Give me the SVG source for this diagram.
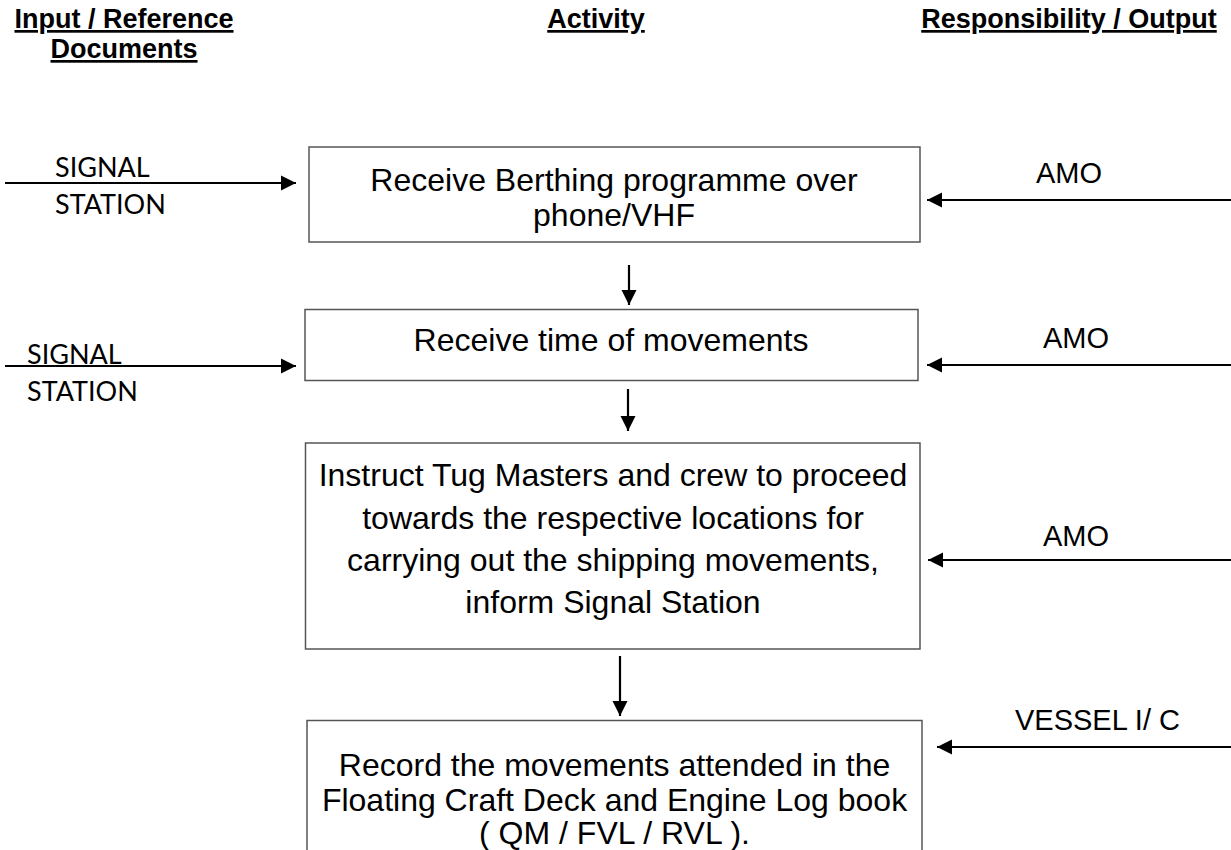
<svg xmlns="http://www.w3.org/2000/svg" width="1231" height="850" viewBox="0 0 1231 850">
<style>
.hdr{font-family:"Liberation Sans",Arial,sans-serif;font-size:27px;font-weight:bold;text-decoration:underline;fill:#000}
.box{fill:#fff;stroke:#555;stroke-width:1.5}
.bt{font-family:"Liberation Sans",Arial,sans-serif;font-size:32px;fill:#000;text-anchor:middle}
.lbl{font-family:"Liberation Sans",Arial,sans-serif;font-size:29px;fill:#000}
.sig{font-family:Lato,"Open Sans",sans-serif;font-size:27px;fill:#000}
.con{stroke:#000;stroke-width:2.2;fill:none}
</style>
<defs>
<marker id="ah" viewBox="0 0 10 10" refX="10" refY="5" markerWidth="7" markerHeight="7" orient="auto" markerUnits="strokeWidth">
<path d="M0,0 L10,5 L0,10 Z" fill="#000"/>
</marker>
</defs>
<g id="headers">
<text class="hdr" x="124" y="28" text-anchor="middle">Input / Reference</text>
<text class="hdr" x="124" y="58" text-anchor="middle">Documents</text>
<text class="hdr" x="596" y="28" text-anchor="middle">Activity</text>
<text class="hdr" x="1069" y="28" text-anchor="middle">Responsibility / Output</text>
</g>
<g id="node1">
<rect class="box" x="309" y="147" width="611" height="95"/>
<text class="bt" x="614" y="191">Receive Berthing programme over</text>
<text class="bt" x="614" y="226">phone/VHF</text>
</g>
<g id="node2">
<rect class="box" x="305" y="309.5" width="613" height="71"/>
<text class="bt" x="611" y="351">Receive time of movements</text>
</g>
<g id="node3">
<rect class="box" x="305.5" y="443" width="614.5" height="206"/>
<text class="bt" x="613" y="486">Instruct Tug Masters and crew to proceed</text>
<text class="bt" x="613" y="529">towards the respective locations for</text>
<text class="bt" x="613" y="571">carrying out the shipping movements,</text>
<text class="bt" x="613" y="613">inform Signal Station</text>
</g>
<g id="node4">
<rect class="box" x="307" y="720.5" width="615" height="140"/>
<text class="bt" x="614.5" y="776">Record the movements attended in the</text>
<text class="bt" x="614.5" y="811">Floating Craft Deck and Engine Log book</text>
<text class="bt" x="614.5" y="844">( QM / FVL / RVL ).</text>
</g>
<g id="labels">
<text class="sig" x="55" y="177">SIGNAL</text>
<text class="sig" x="55" y="214">STATION</text>
<text class="sig" x="27" y="364">SIGNAL</text>
<text class="sig" x="27" y="401">STATION</text>
<text class="lbl" x="1036" y="183">AMO</text>
<text class="lbl" x="1043" y="348">AMO</text>
<text class="lbl" x="1043" y="546">AMO</text>
<text class="lbl" x="1015" y="730">VESSEL I/ C</text>
</g>
<g id="connectors">
<line class="con" x1="5" y1="183" x2="296" y2="183" marker-end="url(#ah)"/>
<line class="con" x1="5" y1="366" x2="296" y2="366" marker-end="url(#ah)"/>
<line class="con" x1="1231" y1="200" x2="927" y2="200" marker-end="url(#ah)"/>
<line class="con" x1="1231" y1="365" x2="927" y2="365" marker-end="url(#ah)"/>
<line class="con" x1="1231" y1="560" x2="928" y2="560" marker-end="url(#ah)"/>
<line class="con" x1="1231" y1="747" x2="937" y2="747" marker-end="url(#ah)"/>
<line class="con" x1="629" y1="265" x2="629" y2="305" marker-end="url(#ah)"/>
<line class="con" x1="628" y1="389" x2="628" y2="431" marker-end="url(#ah)"/>
<line class="con" x1="620" y1="656" x2="620" y2="716" marker-end="url(#ah)"/>
</g>
</svg>
